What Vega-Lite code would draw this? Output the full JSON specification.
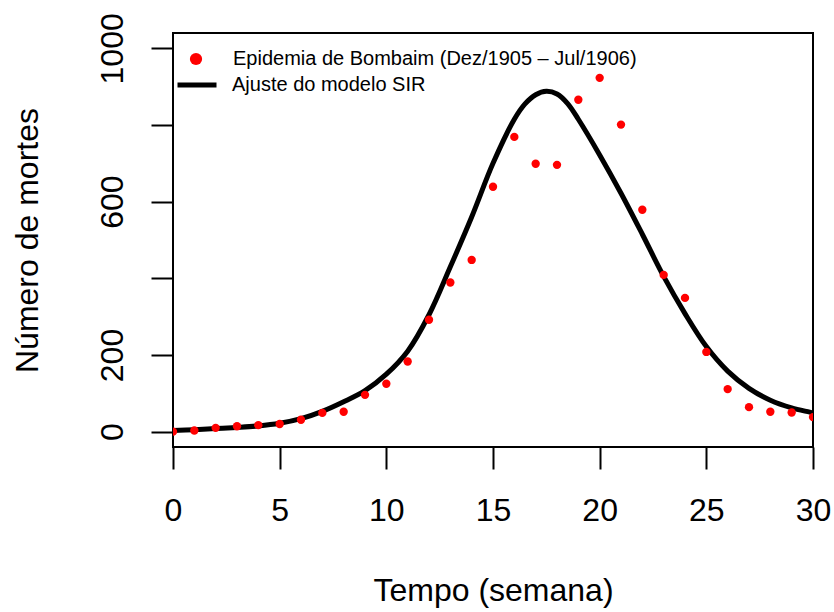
{
  "$schema": "https://vega.github.io/schema/vega-lite/v6.json",
  "width": 640,
  "height": 414,
  "autosize": {"type": "none"},
  "padding": {"left": 173, "top": 33, "right": 21, "bottom": 165},
  "background": "white",
  "config": {
    "view": {"stroke": "#000000", "strokeWidth": 2},
    "font": "Liberation Sans",
    "axis": {"grid": false, "domain": false, "tickColor": "#000000", "tickWidth": 2, "tickSize": 22, "labelColor": "#000000", "titleColor": "#000000", "labelFont": "Liberation Sans", "titleFont": "Liberation Sans", "titleFontWeight": "normal", "labelFontSize": 32, "titleFontSize": 32}
  },
  "datasets": {
    "obs": [
      {"semana": 0, "mortes": 0}, {"semana": 1, "mortes": 3}, {"semana": 2, "mortes": 10}, {"semana": 3, "mortes": 14},
      {"semana": 4, "mortes": 17}, {"semana": 5, "mortes": 20}, {"semana": 6, "mortes": 31}, {"semana": 7, "mortes": 49},
      {"semana": 8, "mortes": 52}, {"semana": 9, "mortes": 96}, {"semana": 10, "mortes": 125}, {"semana": 11, "mortes": 183},
      {"semana": 12, "mortes": 292}, {"semana": 13, "mortes": 389}, {"semana": 14, "mortes": 448}, {"semana": 15, "mortes": 639},
      {"semana": 16, "mortes": 769}, {"semana": 17, "mortes": 699}, {"semana": 18, "mortes": 696}, {"semana": 19, "mortes": 866},
      {"semana": 20, "mortes": 923}, {"semana": 21, "mortes": 801}, {"semana": 22, "mortes": 579}, {"semana": 23, "mortes": 409},
      {"semana": 24, "mortes": 349}, {"semana": 25, "mortes": 208}, {"semana": 26, "mortes": 111}, {"semana": 27, "mortes": 64},
      {"semana": 28, "mortes": 52}, {"semana": 29, "mortes": 50}, {"semana": 30, "mortes": 38}
    ],
    "fit": [
      {"semana": 0, "mortes": 3}, {"semana": 1, "mortes": 5}, {"semana": 2, "mortes": 8}, {"semana": 3, "mortes": 11},
      {"semana": 4, "mortes": 15}, {"semana": 5, "mortes": 22}, {"semana": 6, "mortes": 34}, {"semana": 7, "mortes": 53},
      {"semana": 8, "mortes": 78}, {"semana": 9, "mortes": 107}, {"semana": 10, "mortes": 150}, {"semana": 11, "mortes": 210},
      {"semana": 12, "mortes": 305}, {"semana": 13, "mortes": 430}, {"semana": 14, "mortes": 560}, {"semana": 15, "mortes": 700},
      {"semana": 16, "mortes": 815}, {"semana": 16.5, "mortes": 855}, {"semana": 17, "mortes": 879}, {"semana": 17.5, "mortes": 888},
      {"semana": 18, "mortes": 881}, {"semana": 18.5, "mortes": 856}, {"semana": 19, "mortes": 815}, {"semana": 20, "mortes": 722},
      {"semana": 21, "mortes": 622}, {"semana": 22, "mortes": 515}, {"semana": 23, "mortes": 405}, {"semana": 24, "mortes": 308},
      {"semana": 25, "mortes": 222}, {"semana": 26, "mortes": 158}, {"semana": 27, "mortes": 113}, {"semana": 28, "mortes": 82},
      {"semana": 29, "mortes": 62}, {"semana": 30, "mortes": 49}
    ]
  },
  "layer": [
    {
      "data": {"name": "fit"},
      "transform": [{"calculate": "'Ajuste do modelo SIR'", "as": "serie"}],
      "mark": {"type": "line", "interpolate": "catmull-rom", "strokeWidth": 5, "clip": true},
      "encoding": {
        "x": {"field": "semana", "type": "quantitative", "scale": {"domain": [0, 30], "nice": false, "zero": false},
          "axis": {"values": [0, 5, 10, 15, 20, 25, 30], "format": "d", "title": "Tempo (semana)", "labelPadding": 26, "titlePadding": 49, "labelFlush": false, "labelOverlap": false}},
        "y": {"field": "mortes", "type": "quantitative", "scale": {"domain": [-40, 1040], "nice": false, "zero": false},
          "axis": {"values": [0, 200, 400, 600, 800, 1000], "format": "d", "title": "Número de mortes", "labelAngle": -90, "labelAlign": "center", "labelBaseline": "alphabetic", "labelPadding": 29, "labelOverlap": false,
            "labelExpr": "datum.value == 400 || datum.value == 800 ? '' : datum.label", "titleAngle": -90, "titleBaseline": "alphabetic", "titlePadding": 59}},
        "stroke": {"field": "serie", "type": "nominal", "scale": {"range": ["#000000"]},
          "legend": {"orient": "none", "legendX": 2, "legendY": 30, "title": null, "symbolType": "stroke", "symbolSize": 1521, "symbolStrokeWidth": 5, "labelOffset": 13, "labelFontSize": 20, "labelLimit": 0, "labelColor": "#000000", "padding": 0}}
      }
    },
    {
      "data": {"name": "obs"},
      "transform": [{"calculate": "'Epidemia de Bombaim (Dez/1905 – Jul/1906)'", "as": "serie"}],
      "mark": {"type": "point", "filled": true, "size": 70, "opacity": 1, "clip": true},
      "encoding": {
        "x": {"field": "semana", "type": "quantitative"},
        "y": {"field": "mortes", "type": "quantitative"},
        "color": {"field": "serie", "type": "nominal", "scale": {"range": ["#ff0000"]},
          "legend": {"orient": "none", "legendX": 13, "legendY": 16, "title": null, "symbolType": "circle", "symbolSize": 150, "symbolOpacity": 1, "symbolStrokeWidth": 0, "labelOffset": 27, "labelFontSize": 20, "labelLimit": 0, "labelColor": "#000000", "padding": 0}}
      }
    }
  ]
}
